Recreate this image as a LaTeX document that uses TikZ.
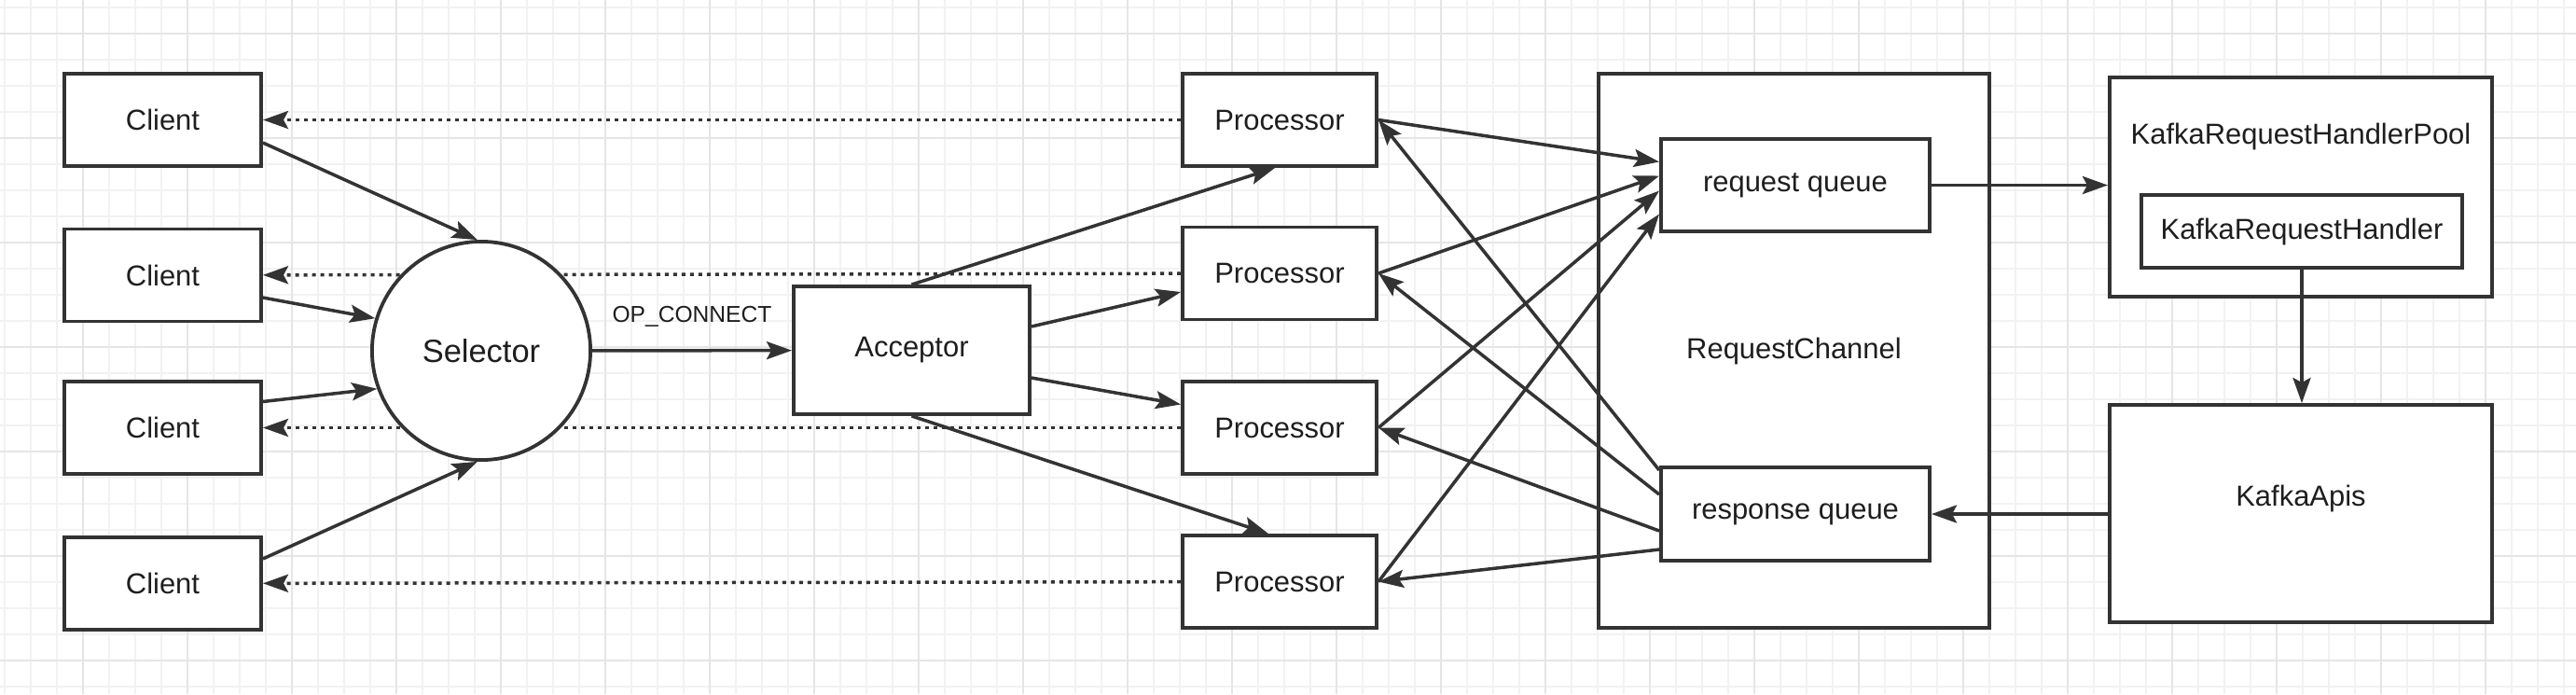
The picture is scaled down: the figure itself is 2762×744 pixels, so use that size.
\documentclass[tikz,border=0pt]{standalone}
\usepackage{fontspec}
\setmainfont{Liberation Sans}
\usetikzlibrary{arrows.meta}

\definecolor{linegray}{HTML}{333333}
\definecolor{textgray}{HTML}{1E1E1E}
\definecolor{gridminor}{HTML}{F2F2F2}
\definecolor{gridmajor}{HTML}{E5E5E5}

\tikzset{
  box/.style = {draw=linegray, line width=0.038cm, fill=white, inner sep=0pt,
    text=textgray, font=\fontsize{8.8pt}{10pt}\selectfont},
  conn/.style = {draw=linegray, line width=0.035cm,
    -{Stealth[length=0.27cm, width=0.19cm, inset=0.05cm]}},
  back/.style = {conn, dash pattern=on 0.04cm off 0.05cm},
}

\begin{document}
\begin{tikzpicture}[x=0.01cm, y=-0.01cm]
    \useasboundingbox (0,0) rectangle (2762,744);
    \fill[white] (0,0) rectangle (2762,744);
    % background grid
    \foreach \x in {5,33,...,2762} \draw[gridminor, line width=0.015cm] (\x,0) -- (\x,744);
    \foreach \y in {8,36,...,744} \draw[gridminor, line width=0.015cm] (0,\y) -- (2762,\y);
    \foreach \x in {89,201,...,2762} \draw[gridmajor, line width=0.02cm] (\x,0) -- (\x,744);
    \foreach \y in {36,148,...,744} \draw[gridmajor, line width=0.02cm] (0,\y) -- (2762,\y);

    \node[box, minimum width=2.11cm, minimum height=0.99cm] (c1) at (174.5,128.5) {Client};
    \node[box, minimum width=2.11cm, minimum height=0.99cm] (c2) at (174.5,295) {Client};
    \node[box, minimum width=2.11cm, minimum height=0.99cm] (c3) at (174.5,458.5) {Client};
    \node[box, minimum width=2.11cm, minimum height=0.99cm] (c4) at (174.5,625.5) {Client};

    \node[box, minimum width=2.08cm, minimum height=0.99cm] (p1) at (1372,128.5) {Processor};
    \node[box, minimum width=2.08cm, minimum height=0.99cm] (p2) at (1372,293) {Processor};
    \node[box, minimum width=2.08cm, minimum height=0.99cm] (p3) at (1372,458.5) {Processor};
    \node[box, minimum width=2.08cm, minimum height=0.99cm] (p4) at (1372,623.5) {Processor};

    % responses back to the clients
    \draw[back] (p1) -- (c1);
    \draw[back] (p2) -- (c2);
    \draw[back] (p3) -- (c3);
    \draw[back] (p4) -- (c4);

    \node[box, circle, minimum size=2.34cm, font=\fontsize{9.8pt}{11pt}\selectfont] (sel) at (516,376) {Selector};
    \node[box, minimum width=2.53cm, minimum height=1.37cm] (acc) at (977.5,375.5) {Acceptor};

    \node[box, minimum width=4.19cm, minimum height=5.94cm] (chan) at (1923.5,376) {RequestChannel};
    \node[box, minimum width=2.88cm, minimum height=0.99cm] (rq) at (1925,198.5) {request queue};
    \node[box, minimum width=2.88cm, minimum height=1cm] (rsp) at (1925,551) {response queue};

    \node[box, minimum width=4.1cm, minimum height=2.35cm,
      label={[anchor=center, yshift=-0.65cm, text=textgray, font=\fontsize{8.8pt}{10pt}\selectfont]north:KafkaRequestHandlerPool}]
      (pool) at (2467,200.5) {};
    \node[box, minimum width=3.44cm, minimum height=0.78cm] (hdl) at (2468,248) {KafkaRequestHandler};
    \node[box, minimum width=4.1cm, minimum height=2.33cm,
      label={[anchor=center, yshift=0.165cm, text=textgray, font=\fontsize{8.8pt}{10pt}\selectfont]center:KafkaApis}]
      (apis) at (2467,550.5) {};

    \draw[conn] ([yshift=-0.245cm]c1.east) -- (sel.92);
    \draw[conn] ([yshift=-0.24cm]c2.east) -- (sel.163);
    \draw[conn] ([yshift=0.28cm]c3.east) -- (sel.200);
    \draw[conn] ([yshift=0.265cm]c4.east) -- (sel.268);

    \draw[conn] (sel) -- node[midway, yshift=0.36cm, text=textgray, font=\fontsize{7pt}{8pt}\selectfont] {OP\_CONNECT} (acc);

    \draw[conn] (acc.north) -- ([xshift=-0.05cm]p1.south);
    \draw[conn] ([yshift=0.255cm]acc.east) -- ([yshift=-0.2cm]p2.west);
    \draw[conn] ([yshift=-0.295cm]acc.east) -- ([yshift=0.25cm]p3.west);
    \draw[conn] (acc.south) -- ([xshift=-0.12cm]p4.north);

    \draw[conn] (p1.east) -- ([yshift=0.25cm]rq.west);
    \draw[conn] (p2.east) -- ([yshift=0.1cm]rq.west);
    \draw[conn] (p3.east) -- ([yshift=-0.06cm]rq.west);
    \draw[conn] (p4.east) -- ([yshift=-0.31cm]rq.west);

    \draw[conn] ([yshift=0.47cm]rsp.west) -- (p1.east);
    \draw[conn] ([yshift=0.21cm]rsp.west) -- (p2.east);
    \draw[conn] ([yshift=-0.18cm]rsp.west) -- (p3.east);
    \draw[conn] ([yshift=-0.38cm]rsp.west) -- (p4.east);

    \draw[conn] (rq.east) -- (rq.east -| pool.west);
    \draw[conn] (hdl.south) -- (hdl.south |- apis.north);
    \draw[conn] (apis.west |- rsp.east) -- (rsp.east);
\end{tikzpicture}
\end{document}
